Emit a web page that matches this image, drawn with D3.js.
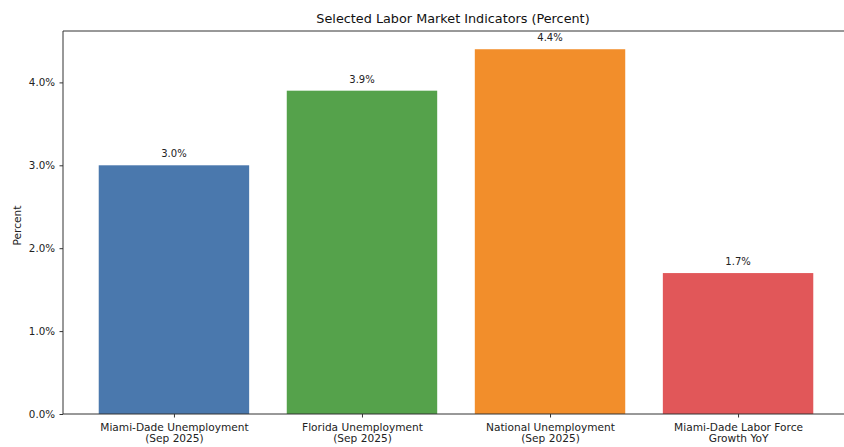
<!DOCTYPE html>
<html>
<head>
<meta charset="utf-8">
<script src="https://cdn.jsdelivr.net/npm/d3@7"></script>
<style>
  html, body { margin: 0; padding: 0; background: #fff; }
  svg { display: block; font-family: "DejaVu Sans", sans-serif; }
</style>
</head>
<body>
<svg id="chart" width="844" height="447"></svg>
<script>
// Labor market indicators, percent
const categories = [
  ["Miami-Dade Unemployment", "(Sep 2025)"],
  ["Florida Unemployment", "(Sep 2025)"],
  ["National Unemployment", "(Sep 2025)"],
  ["Miami-Dade Labor Force", "Growth YoY"]
];
const values = [3.0, 3.9, 4.4, 1.7];
const barColors = ["#4a78ad", "#55a24b", "#f28e2b", "#e15759"];
const yTicks = [0, 1, 2, 3, 4];
const titleText = "Selected Labor Market Indicators (Percent)";
const yLabel = "Percent";

const svg = d3.select("#chart");
const plot = { left: 63, right: 849, top: 31, bottom: 414 };

// x: category index with margins around 0.8-wide bars
const x = d3.scaleLinear()
  .domain([-0.59, categories.length - 1 + 0.59])
  .range([plot.left, plot.right]);
const barW = 0.8;

const yMax = d3.max(values) * 1.05;
const y = d3.scaleLinear().domain([0, yMax]).range([plot.bottom, plot.top]);

const fmt = v => d3.format(".1f")(v) + "%";

// bars
svg.append("g").selectAll("rect")
  .data(values)
  .join("rect")
  .attr("x", (d, i) => x(i - barW / 2))
  .attr("width", (d, i) => x(i + barW / 2) - x(i - barW / 2))
  .attr("y", d => y(d))
  .attr("height", d => y(0) - y(d))
  .attr("fill", (d, i) => barColors[i]);

// value labels
svg.append("g").selectAll("text")
  .data(values)
  .join("text")
  .attr("x", (d, i) => x(i))
  .attr("y", d => y(d) - 8)
  .attr("text-anchor", "middle")
  .attr("font-size", 10)
  .attr("fill", "#222")
  .text(d => fmt(d));

// y axis
const yAxis = d3.axisLeft(y)
  .tickValues(yTicks)
  .tickFormat(fmt)
  .tickSize(3.5)
  .tickPadding(4.5);
const gy = svg.append("g")
  .attr("transform", `translate(${plot.left},0)`)
  .call(yAxis);
gy.select(".domain").remove();
gy.selectAll("text").attr("font-size", 10.3).attr("fill", "#222").attr("font-family", "DejaVu Sans, sans-serif");
gy.selectAll("line").attr("stroke", "#333");

// x axis
const xAxis = d3.axisBottom(x)
  .tickValues(d3.range(categories.length))
  .tickFormat("")
  .tickSize(3.5);
const gx = svg.append("g")
  .attr("transform", `translate(0,${plot.bottom})`)
  .call(xAxis);
gx.select(".domain").remove();
gx.selectAll("line").attr("stroke", "#333");
gx.selectAll(".tick").each(function(d) {
  const t = d3.select(this).append("text")
    .attr("text-anchor", "middle")
    .attr("font-size", 10.6)
    .attr("fill", "#222")
    .attr("font-family", "DejaVu Sans, sans-serif");
  categories[d].forEach((line, k) => {
    t.append("tspan").attr("x", 0).attr("y", 16.5 + k * 11.5).text(line);
  });
});

// spines
const spine = svg.append("g").attr("stroke", "#333").attr("stroke-width", 1).attr("fill", "none");
spine.append("line").attr("x1", plot.left).attr("x2", plot.left).attr("y1", plot.top).attr("y2", plot.bottom);
spine.append("line").attr("x1", plot.left).attr("x2", plot.right).attr("y1", plot.bottom).attr("y2", plot.bottom);
spine.append("line").attr("x1", plot.left).attr("x2", plot.right).attr("y1", plot.top).attr("y2", plot.top);
spine.append("line").attr("x1", plot.right).attr("x2", plot.right).attr("y1", plot.top).attr("y2", plot.bottom);

// title
svg.append("text")
  .attr("x", 453)
  .attr("y", plot.top - 8)
  .attr("text-anchor", "middle")
  .attr("font-size", 12.8)
  .attr("fill", "#111")
  .text(titleText);

// y label
svg.append("text")
  .attr("transform", `translate(21,${(plot.top + plot.bottom) / 2 + 3}) rotate(-90)`)
  .attr("text-anchor", "middle")
  .attr("font-size", 10.6)
  .attr("fill", "#222")
  .text(yLabel);
</script>
</body>
</html>
